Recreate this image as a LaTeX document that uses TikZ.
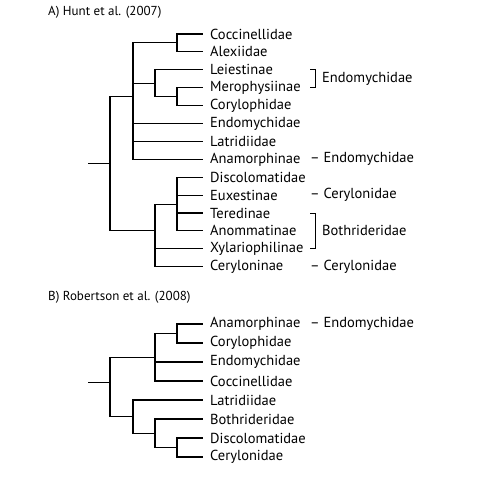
\documentclass[tikz,border=0pt]{standalone}
\usepackage{fontspec}
\setmainfont{PT Sans}
\usetikzlibrary{positioning,calc}
\tikzset{
  taxon/.style={anchor=west, inner xsep=7pt, inner ysep=0pt, font=\fontsize{14.5}{16}\selectfont},
  family/.style={anchor=west, inner sep=0pt, font=\fontsize{14.5}{16}\selectfont},
  heading/.style={anchor=west, inner sep=0pt, font=\fontsize{13}{15}\selectfont},
  branch/.style={line width=1.1pt},
  bracket/.style={line width=0.9pt},
}

\begin{document}
\begin{tikzpicture}[x=1pt, y=-1pt]
  \useasboundingbox (0,0) rectangle (499,500);

  % A) Hunt et al. (2007)
  \node[heading] (ttlA) at (48,12) {A) Hunt et al. (2007)};
  \foreach \n/\t [count=\i from 0] in {cocA/Coccinellidae, alxA/Alexiidae, leiA/Leiestinae,
      merA/Merophysiinae, corA/Corylophidae, endA/Endomychidae, latA/Latridiidae,
      anaA/Anamorphinae, disA/Discolomatidae, euxA/Euxestinae, terA/Teredinae,
      anoA/Anommatinae, xylA/Xylariophilinae, cerA/Ceryloninae}
    \node[taxon] (\n) at (203,{34+17.9*\i}) {\t};

  \coordinate (ca) at (177,{34+17.9*0.5});
  \coordinate (mc) at (177,{34+17.9*3.5});
  \coordinate (lmc) at (155,{34+17.9*2.75});
  \coordinate (upA) at (133,{34+17.9*3.5});
  \coordinate (dt) at (177,{34+17.9*9.5});
  \coordinate (lowA) at (155,{34+17.9*11});
  \coordinate (rootA) at (110,{34+17.9*7.25});
  \coordinate (stubA) at (88,{34+17.9*7.25});

  \draw[branch] (ca) |- (cocA.west);
  \draw[branch] (ca) |- (alxA.west);
  \draw[branch] (mc) |- (merA.west);
  \draw[branch] (mc) |- (corA.west);
  \draw[branch] (lmc) |- (leiA.west);
  \draw[branch] (lmc) |- (mc);
  \draw[branch] (upA) |- (ca);
  \draw[branch] (upA) |- (lmc);
  \draw[branch] (upA) |- (endA.west);
  \draw[branch] (upA) |- (latA.west);
  \draw[branch] (upA) |- (anaA.west);
  \draw[branch] (dt) |- (disA.west);
  \draw[branch] (dt) |- (euxA.west);
  \draw[branch] (dt) |- (terA.west);
  \draw[branch] (dt) |- (anoA.west);
  \draw[branch] (lowA) |- (dt);
  \draw[branch] (lowA) |- (xylA.west);
  \draw[branch] (lowA) |- (cerA.west);
  \draw[branch] (rootA) |- (upA);
  \draw[branch] (rootA) |- (lowA);
  \draw[branch] (stubA) -- (rootA);

  % families, tree A
  \draw[bracket] (310,{34+17.9*2}) -| (315,{34+17.9*3}) -- (310,{34+17.9*3});
  \node[family] (endoA) at (322,{34+17.9*2.5}) {Endomychidae};
  \node[family] (endoB) at (310,{34+17.9*7}) {– Endomychidae};
  \node[family] (ceryA) at (310,{34+17.9*9}) {– Cerylonidae};
  \draw[bracket] (310,{34+17.9*10}) -| (315,{34+17.9*12}) -- (310,{34+17.9*12});
  \node[family] (bothA) at (322,{34+17.9*11}) {Bothrideridae};
  \node[family] (ceryB) at (310,{34+17.9*13}) {– Cerylonidae};

  % B) Robertson et al. (2008)
  \node[heading] (ttlB) at (48,297) {B) Robertson et al. (2008)};
  \foreach \n/\t [count=\i from 0] in {anaB/Anamorphinae, corB/Corylophidae, endB/Endomychidae,
      cocB/Coccinellidae, latB/Latridiidae, botB/Bothrideridae, disB/Discolomatidae,
      cerB/Cerylonidae}
    \node[taxon] (\n) at (203,{324+19*\i}) {\t};

  \coordinate (ac) at (177,{324+19*0.5});
  \coordinate (upB) at (155,{324+19*1.75});
  \coordinate (dc) at (177,{324+19*6.5});
  \coordinate (bdc) at (155,{324+19*5.75});
  \coordinate (lowB) at (133,{324+19*4.875});
  \coordinate (rootB) at (110,{324+19*3.1});
  \coordinate (stubB) at (88,{324+19*3.1});

  \draw[branch] (ac) |- (anaB.west);
  \draw[branch] (ac) |- (corB.west);
  \draw[branch] (upB) |- (ac);
  \draw[branch] (upB) |- (endB.west);
  \draw[branch] (upB) |- (cocB.west);
  \draw[branch] (dc) |- (disB.west);
  \draw[branch] (dc) |- (cerB.west);
  \draw[branch] (bdc) |- (botB.west);
  \draw[branch] (bdc) |- (dc);
  \draw[branch] (lowB) |- (latB.west);
  \draw[branch] (lowB) |- (bdc);
  \draw[branch] (rootB) |- (upB);
  \draw[branch] (rootB) |- (lowB);
  \draw[branch] (stubB) -- (rootB);

  \node[family] (endoC) at (310,324) {– Endomychidae};
\end{tikzpicture}
\end{document}
